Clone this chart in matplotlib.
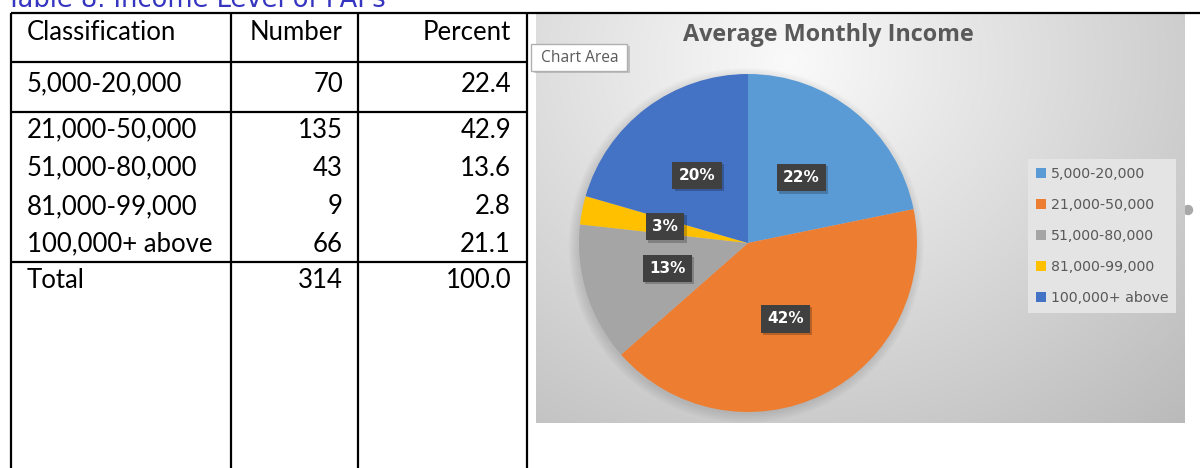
import matplotlib
matplotlib.use("Agg")
import matplotlib.pyplot as plt
import numpy as np
from matplotlib.patches import Rectangle, Circle

# table / chart data
classes = ["5,000-20,000", "21,000-50,000", "51,000-80,000", "81,000-99,000", "100,000+ above"]
numbers = [70, 135, 43, 9, 66]
percents = [22.4, 42.9, 13.6, 2.8, 21.1]
total_number = 314
total_percent = 100.0
pie_labels = ["22%", "42%", "13%", "3%", "20%"]
colors = ["#5B9BD5", "#ED7D31", "#A5A5A5", "#FFC000", "#4472C4"]

W, H = 1200, 468
fig = plt.figure(figsize=(12, 4.68), dpi=100)
fig.patch.set_facecolor("white")

# background axes in pixel coordinates (y down)
bg = fig.add_axes([0, 0, 1, 1])
bg.set_xlim(0, W)
bg.set_ylim(H, 0)
bg.axis("off")

# caption (cut off at the top, as in the source page)
bg.text(6, 7, "Table 8. Income Level of PAPs", fontsize=18.5, color="#3535C0",
        family="DejaVu Sans", ha="left", va="baseline")

# --- table ---
col_x = [11, 231, 358, 527]
line_kw = dict(color="black", lw=1.6, solid_capstyle="butt")
for x in col_x:
    bg.plot([x, x], [13, H], **line_kw)
bg.plot([11, W], [13, 13], **line_kw)
for y in [62, 112, 262]:
    bg.plot([11, 527], [y, y], **line_kw)

tfont = dict(family="Lato", fontsize=18.5, color="black", va="center")
bg.text(27, 33, "Classification", ha="left", **tfont)
bg.text(343, 33, "Number", ha="right", **tfont)
bg.text(511, 33, "Percent", ha="right", **tfont)
row_y = [84, 130, 168, 207, 244]
for y, c, n, p in zip(row_y, classes, numbers, percents):
    bg.text(27, y, c, ha="left", **tfont)
    bg.text(343, y, f"{n}", ha="right", **tfont)
    bg.text(511, y, f"{p:.1f}", ha="right", **tfont)
bg.text(27, 281, "Total", ha="left", **tfont)
bg.text(343, 281, f"{total_number}", ha="right", **tfont)
bg.text(511, 281, f"{total_percent:.1f}", ha="right", **tfont)

# --- chart area with soft radial gradient ---
cx0, cx1, cy0, cy1 = 536, 1185, 13, 423
gx, gy = np.meshgrid(np.arange(cx0, cx1), np.arange(cy0, cy1))
d = np.hypot((gx - 790) / 1.15, gy - 60)
shade = np.clip(0.98 - 0.25 * d / d.max(), 0, 1)
img = np.dstack([shade, shade, shade])
bg.add_patch(Circle((1188, 210), 4.5, color="#a8a8a8", zorder=0.5))
bg.imshow(img, extent=(cx0, cx1, cy1, cy0), aspect="auto", zorder=1, interpolation="bilinear")
bg.set_xlim(0, W)
bg.set_ylim(H, 0)

bg.text(828, 35, "Average Monthly Income", fontsize=16.8, fontweight="bold",
        family="Open Sans", color="#595959", ha="center", va="center", zorder=3)

# "Chart Area" tooltip
bg.add_patch(Rectangle((534, 46), 96, 27, fc="#9a9a9a", ec="none", alpha=0.5, zorder=3))
bg.add_patch(Rectangle((531, 44), 96, 27, fc="white", ec="#b0b0b0", lw=1, zorder=4))
bg.text(541, 57.5, "Chart Area", fontsize=11.2, family="Open Sans", color="#5a5a5a",
        ha="left", va="center", zorder=5)

# --- pie ---
R = 169
pcx, pcy = 748, 243
pax = fig.add_axes([(pcx - R) / W, (H - pcy - R) / H, 2 * R / W, 2 * R / H])
for r in np.linspace(1.05, 1.0, 6):
    pax.add_patch(Circle((-0.01, -0.015), r, color="black", alpha=0.018, lw=0,
                         zorder=0, clip_on=False))
wedges, _ = pax.pie(percents, colors=colors, startangle=90, counterclock=False,
                    wedgeprops=dict(linewidth=0))
pax.set_xlim(-1, 1)
pax.set_ylim(-1, 1)
pax.set_aspect("equal")
pax.axis("off")

for w, lab in zip(wedges, pie_labels):
    ang = np.deg2rad((w.theta1 + w.theta2) / 2)
    x, y = 0.5 * np.cos(ang), 0.5 * np.sin(ang)
    pax.annotate(lab, (x, y), xytext=(1.5, -1.5), textcoords="offset points",
                 ha="center", va="center", fontsize=11, fontweight="bold", color="none",
                 bbox=dict(boxstyle="square,pad=0.42", fc="black", ec="none", alpha=0.22),
                 zorder=4)
    pax.text(x, y, lab, ha="center", va="center", fontsize=11, fontweight="bold",
             color="white", family="DejaVu Sans",
             bbox=dict(boxstyle="square,pad=0.42", fc="#404040", ec="none"), zorder=5)

# --- legend ---
leg = fig.legend(wedges, classes, loc="upper left",
                 bbox_to_anchor=(1028 / W, 1 - 159 / H), frameon=True,
                 facecolor="#e4e4e4", edgecolor="none", framealpha=1, fancybox=False,
                 fontsize=10.2, labelcolor="#595959", handlelength=0.7, handleheight=0.7,
                 handletextpad=0.35, labelspacing=1.2, borderpad=0.55, borderaxespad=0)

fig.savefig("out.png", dpi=100, facecolor="white")
